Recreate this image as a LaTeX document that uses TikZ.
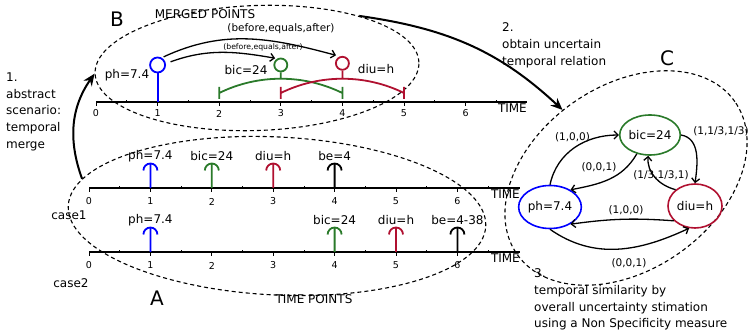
\documentclass[tikz,border=0pt]{standalone}
\usepackage{fontspec}
\setmainfont{DejaVu Sans}
\usetikzlibrary{arrows.meta,shapes.geometric}

\definecolor{ptblue}{RGB}{0,0,255}
\definecolor{ptgreen}{RGB}{42,122,42}
\definecolor{ptred}{RGB}{176,16,48}

\newcommand{\fsz}[1]{\fontsize{#1}{#1}\selectfont}

\begin{document}
\begin{tikzpicture}[x=1pt, y=1pt, every node/.style={font=\fsz{12}, inner sep=0pt},
  zone/.style={draw, ellipse, dash pattern=on 4pt off 3pt, line width=1.1pt},
  axisline/.style={line width=1.6pt},
  stem/.style={line width=1.8pt},
  num/.style={font=\fsz{9.5}},
  big/.style={font=\fsz{20}},
  note/.style={align=left, anchor=north west, font=\fontsize{12}{16.7}\selectfont},
  rel/.style={-{Straight Barb[length=4pt,width=8pt]}, line width=1.3pt},
  flow/.style={-{Stealth[length=12pt,width=10pt]}, line width=2pt},
  dot/.style={draw, circle, line width=1.8pt},
  state/.style={draw, ellipse, line width=1.6pt, minimum width=54, minimum height=43},
  elbl/.style={font=\fsz{10.5}}]
\useasboundingbox (0,0) rectangle (750,-336);

% dashed regions
\node[zone, minimum width=324, minimum height=125, rotate=2] (mergeB) at (257,-68) {};
\node[zone, minimum width=418, minimum height=158, rotate=-2.8] (ptsA) at (277,-216) {};
\node[zone, minimum width=266, minimum height=184, rotate=35] (simC) at (626,-178) {};
\node[big] (lblA) at (157,-298) {A};
\node[big] (lblB) at (117,-19) {B};
\node[big] (lblC) at (667,-58) {C};
\node (ttlB) at (205,-14) {MERGED POINTS};
\node (ttlA) at (314,-299) {TIME POINTS};

% merged time line
\draw[axisline] (96,-102) -- (527,-102);
\foreach \i in {0,...,6} {
  \draw[line width=1pt] ({96+61.6*\i},-102) -- ++(0,-4);
  \draw[line width=.8pt] ({96+61.6*(\i+.5)},-102) -- ++(0,2);
  \node[num] (bt\i) at ({96+61.6*\i},-113.5) {\i};
}
\node[anchor=north east] (timeB) at (527,-103.5) {TIME};

% merged points with their uncertainty intervals
\node[dot, draw=ptblue, minimum size=15] (phB) at (157.6,-65) {};
\node[dot, draw=ptgreen, minimum size=13] (bicB) at (280.8,-65) {};
\node[dot, draw=ptred, minimum size=13] (diuB) at (342.4,-63.3) {};
\draw[stem, ptblue] (157.6,-102) -- (phB);
\draw[stem, ptgreen] (219.2,-87) -- ++(0,-12) (342.4,-87) -- ++(0,-12)
  (219.2,-93) arc[start angle=116.1, end angle=63.9, radius=140] (280.8,-78.6) -- (bicB);
\draw[stem, ptred] (280.8,-87) -- ++(0,-12) (404,-87) -- ++(0,-12)
  (280.8,-93) arc[start angle=116.1, end angle=63.9, radius=140] (342.4,-78.6) -- (diuB);
\node (phBl) at (127,-75) {ph=7.4};
\node (bicBl) at (246,-70) {bic=24};
\node (diuBl) at (376,-69) {diu=h};
\draw[rel, shorten <=2pt, shorten >=4pt] (phB.60) to[out=25, in=165] (diuB.110);
\draw[rel, shorten <=5pt, shorten >=2pt] (phB.10) to[out=20, in=170] (bicB.120);
\node[font=\fsz{10.4}] (relB1) at (281,-29) {(before,equals,after)};
\node[font=\fsz{7.7}] (relB2) at (263,-47) {(before,equals,after)};

% the two cases on a common time scale
\foreach \yy/\n in {-188/1, -252/2} {
  \draw[axisline] (89,\yy) -- (520,\yy);
  \foreach \i in {0,...,6} {
    \draw[line width=1pt] ({89+61.4*\i},\yy) -- ++(0,-4);
    \draw[line width=.8pt] ({89+61.4*(\i+.5)},\yy) -- ++(0,2);
    \node[num] (t\n\i) at ({89+61.4*\i},\yy-13.5) {\i};
  }
  \node[anchor=north east] (time\n) at (520,\yy-1.5) {TIME};
}
\foreach \px/\col/\lab [count=\m] in {1/ptblue/ph=7.4, 2/ptgreen/bic=24, 3/ptred/diu=h, 4/black/be=4} {
  \draw[stem, \col] ({89+61.4*\px},-188) -- ++(0,24.5) ++(-7,-7) arc[start angle=180, end angle=0, radius=7];
  \node (pa\m) at ({89+61.4*\px},-156) {\lab};
}
\foreach \px/\col/\lab [count=\m] in {1/ptblue/ph=7.4, 4/ptgreen/bic=24, 5/ptred/diu=h, 6/black/be=4-38} {
  \draw[stem, \col] ({89+61.4*\px},-252) -- ++(0,24.5) ++(-7,-7) arc[start angle=180, end angle=0, radius=7];
  \node (pb\m) at ({89+61.4*\px},-220.5) {\lab};
}
\node (case1) at (69,-215) {case1};
\node (case2) at (71,-283) {case2};

% similarity graph
\node[state, draw=ptgreen, minimum width=52, minimum height=40] (bicC) at (650,-135) {bic=24};
\node[state, draw=ptblue] (phC) at (550,-207) {ph=7.4};
\node[state, draw=ptred, minimum height=44] (diuC) at (695,-206) {diu=h};
\draw[rel] (phC.north) to[out=78, in=180] (bicC.west);
\draw[rel] (bicC.235) to[out=-120, in=11] (phC.40);
\draw[rel] (bicC.east) to[out=-10, in=82] (diuC.north);
\draw[rel] (diuC.140) to[out=165, in=-95] (bicC.265);
\draw[rel] (diuC.215) to[bend right=6] (phC.-40);
\draw[rel] (phC.south) to[out=-35, in=205] (diuC.255);
\node[elbl] (r1) at (572.5,-137) {(1,0,0)};
\node[elbl] (r2) at (599,-167) {(0,0,1)};
\node[elbl] (r3) at (721,-131) {(1,1/3,1/3)};
\node[elbl] (r4) at (661,-175) {(1/3,1/3,1)};
\node[elbl] (r5) at (626,-210) {(1,0,0)};
\node[elbl] (r6) at (629,-263) {(0,0,1)};

% steps
\draw[flow] (ptsA.172) to[out=110, in=235] (mergeB.180);
\draw[flow] (mergeB.25) to[out=-8, in=137] (simC.98);
\node[note] (step1) at (6,-72.5) {1.\\abstract\\scenario:\\temporal\\merge};
\node[note] (step2) at (502,-22.7) {2.\\obtain uncertain\\temporal relation};
\node[note] (step3) at (534,-268.7) {3.\\temporal similarity by\\overall uncertainty stimation\\using a Non Specificity measure};
\end{tikzpicture}
\end{document}
